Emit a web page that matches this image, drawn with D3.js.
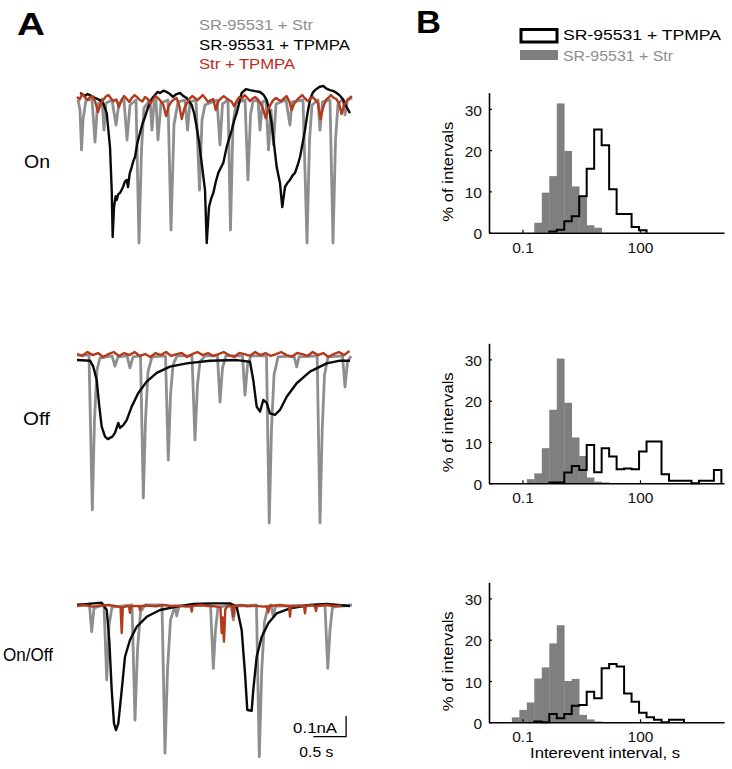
<!DOCTYPE html>
<html><head><meta charset="utf-8">
<script src="https://cdn.jsdelivr.net/npm/d3@7"></script>
<style>
body{margin:0;background:#fff}
svg{display:block}
text{font-family:Arial,"Liberation Sans",sans-serif}
</style>
</head><body>
<svg id="c" width="732" height="769"></svg>
<script>
// ---------- Panel A: current traces, [time (s), current (pA)] ----------
const legendA = ["SR-95531 + Str", "SR-95531 + TPMPA", "Str + TPMPA"];
const rowLabels = ["On", "Off", "On/Off"];

const onGray = [[0.015,-5],[0.046,-53],[0.069,-246],[0.092,-101],[0.137,-5],[0.229,0],[0.275,-208],[0.313,-29],[0.382,0],[0.412,-150],[0.443,-19],[0.535,-5],[0.596,-126],[0.641,-19],[0.718,-5],[0.764,-198],[0.809,-29],[0.901,-5],[0.947,-696],[0.985,-246],[1.023,-43],[1.115,-5],[1.145,-150],[1.176,-24],[1.206,-5],[1.237,-198],[1.283,-19],[1.390,-5],[1.436,-633],[1.481,-126],[1.542,-14],[1.649,-5],[1.688,-150],[1.726,-14],[1.817,-5],[1.871,-440],[1.909,-101],[1.955,-29],[2.138,-5],[2.184,-222],[2.222,-24],[2.306,-5],[2.344,-633],[2.382,-126],[2.428,-19],[2.566,-5],[2.611,-391],[2.650,-77],[2.688,-10],[2.764,-5],[2.795,-150],[2.833,-14],[2.886,-5],[2.925,-246],[2.963,-53],[3.001,-222],[3.039,-24],[3.192,-5],[3.253,-126],[3.283,-14],[3.452,-5],[3.513,-696],[3.551,-198],[3.589,-29],[3.681,-5],[3.711,-150],[3.749,-14],[3.864,-5],[3.910,-696],[3.948,-198],[3.986,-24],[4.062,0],[4.093,-77],[4.131,-5],[4.200,5]];
const onBlack = [[0.046,29],[0.090,22],[0.122,14],[0.160,24],[0.199,19],[0.240,10],[0.275,5],[0.351,-5],[0.400,-20],[0.454,-68],[0.504,-232],[0.530,-440],[0.545,-667],[0.565,-522],[0.590,-470],[0.606,-488],[0.630,-460],[0.657,-454],[0.680,-440],[0.703,-425],[0.730,-400],[0.759,-391],[0.779,-425],[0.805,-360],[0.835,-329],[0.860,-300],[0.886,-280],[0.920,-215],[0.962,-164],[1.000,-120],[1.039,-87],[1.080,-45],[1.115,-19],[1.150,5],[1.191,19],[1.230,34],[1.268,29],[1.320,40],[1.370,34],[1.420,24],[1.466,10],[1.520,24],[1.573,29],[1.620,15],[1.675,5],[1.752,-29],[1.790,-70],[1.828,-135],[1.870,-220],[1.904,-309],[1.955,-440],[1.981,-696],[2.016,-522],[2.050,-480],[2.082,-454],[2.120,-400],[2.158,-357],[2.200,-330],[2.234,-309],[2.260,-270],[2.286,-232],[2.325,-190],[2.363,-150],[2.400,-105],[2.439,-68],[2.480,-15],[2.515,29],[2.580,48],[2.642,43],[2.720,38],[2.795,34],[2.850,20],[2.897,-5],[2.940,-60],[2.973,-116],[3.010,-220],[3.050,-329],[3.100,-406],[3.135,-522],[3.177,-425],[3.215,-405],[3.253,-391],[3.290,-370],[3.329,-357],[3.370,-320],[3.406,-280],[3.445,-215],[3.482,-150],[3.520,-70],[3.558,-5],[3.600,30],[3.635,43],[3.700,58],[3.761,63],[3.810,50],[3.864,43],[3.920,38],[3.966,29],[4.020,15],[4.067,-5],[4.120,-40],[4.169,-68]];
const onRed = [[0.00,10],[0.04,-2],[0.08,24],[0.12,8],[0.16,-5],[0.20,10],[0.24,14],[0.28,-15],[0.32,-63],[0.36,-25],[0.40,-5],[0.44,12],[0.48,19],[0.52,2],[0.56,-10],[0.60,-2],[0.64,-39],[0.68,-5],[0.72,14],[0.76,0],[0.80,-14],[0.84,6],[0.88,19],[0.92,8],[0.96,-5],[1.00,-12],[1.04,10],[1.08,0],[1.12,-24],[1.16,-4],[1.20,14],[1.24,3],[1.28,-10],[1.32,-30],[1.36,-82],[1.40,-35],[1.44,-14],[1.48,-2],[1.52,5],[1.56,-30],[1.60,-97],[1.64,-45],[1.68,-19],[1.72,2],[1.76,14],[1.80,5],[1.84,-5],[1.88,6],[1.92,19],[1.96,4],[2.00,-14],[2.04,-6],[2.08,0],[2.12,-53],[2.16,-10],[2.20,3],[2.24,14],[2.28,4],[2.32,-5],[2.36,-12],[2.40,-34],[2.44,-8],[2.48,10],[2.52,2],[2.56,19],[2.60,6],[2.64,-10],[2.68,2],[2.72,10],[2.76,-2],[2.80,-19],[2.84,-45],[2.88,-92],[2.92,-50],[2.96,-24],[3.00,-5],[3.04,5],[3.08,-4],[3.12,-10],[3.16,3],[3.20,14],[3.24,-10],[3.28,-53],[3.32,-20],[3.36,-5],[3.40,8],[3.44,19],[3.48,4],[3.52,-10],[3.56,0],[3.60,10],[3.64,-4],[3.68,-19],[3.72,-97],[3.76,-40],[3.80,-5],[3.84,6],[3.88,19],[3.92,5],[3.96,0],[4.00,-20],[4.04,-72],[4.08,-30],[4.12,-10],[4.16,4],[4.20,14]];

const offGray = [[0.000,14],[0.183,14],[0.234,-734],[0.267,-300],[0.305,-58],[0.351,0],[0.535,10],[0.580,-39],[0.626,5],[0.764,10],[0.809,-48],[0.855,5],[0.970,10],[1.013,-676],[1.046,-300],[1.084,-68],[1.145,5],[1.352,10],[1.394,-493],[1.428,-179],[1.466,-34],[1.527,10],[1.756,10],[1.802,-396],[1.840,-130],[1.878,-19],[1.955,10],[2.146,10],[2.184,-213],[2.222,-48],[2.275,10],[2.527,10],[2.566,-179],[2.604,-34],[2.657,10],[2.894,10],[2.936,-797],[2.970,-348],[3.009,-82],[3.070,5],[3.314,10],[3.355,-43],[3.390,5],[3.668,10],[3.711,-797],[3.745,-348],[3.780,-82],[3.833,5],[4.055,10],[4.093,-140],[4.131,-19],[4.184,10]];
const offBlack = [[0.000,-10],[0.199,-13],[0.249,-42],[0.301,-106],[0.341,-235],[0.377,-332],[0.428,-380],[0.470,-392],[0.504,-386],[0.540,-380],[0.580,-362],[0.631,-314],[0.657,-338],[0.707,-324],[0.759,-300],[0.835,-235],[0.936,-169],[1.064,-114],[1.217,-72],[1.420,-42],[1.675,-26],[2.031,-13],[2.439,-10],[2.642,-18],[2.692,-106],[2.744,-235],[2.795,-259],[2.845,-203],[2.897,-217],[2.947,-267],[3.024,-275],[3.100,-251],[3.203,-187],[3.355,-122],[3.558,-66],[3.813,-26],[4.017,-13],[4.169,-13]];
const offRed = [[0.00,19],[0.08,10],[0.16,29],[0.24,14],[0.32,24],[0.40,5],[0.48,19],[0.56,29],[0.64,10],[0.72,24],[0.80,14],[0.88,29],[0.96,10],[1.04,19],[1.12,5],[1.20,24],[1.28,14],[1.36,29],[1.44,10],[1.52,19],[1.60,24],[1.68,5],[1.76,19],[1.84,29],[1.92,14],[2.00,24],[2.08,10],[2.16,19],[2.24,29],[2.32,14],[2.40,5],[2.48,24],[2.56,19],[2.64,10],[2.72,29],[2.80,14],[2.88,24],[2.96,10],[3.04,19],[3.12,29],[3.20,14],[3.28,5],[3.36,24],[3.44,19],[3.52,10],[3.60,29],[3.68,14],[3.76,24],[3.84,5],[3.92,19],[4.00,29],[4.08,14],[4.16,34]];

const onOffGray = [[0.000,0],[0.191,0],[0.224,-129],[0.260,-14],[0.412,0],[0.454,-362],[0.489,-97],[0.535,-10],[0.840,0],[0.886,-556],[0.924,-217],[0.970,-34],[1.039,0],[1.298,0],[1.344,-716],[1.382,-314],[1.428,-72],[1.497,-5],[1.523,-53],[1.558,-5],[2.039,0],[2.082,-306],[2.115,-121],[2.153,-10],[2.352,0],[2.387,-72],[2.421,-5],[2.741,0],[2.784,-733],[2.822,-314],[2.863,-82],[2.917,-10],[2.963,0],[2.998,-57],[3.032,-5],[3.787,0],[3.830,-306],[3.864,-121],[3.902,-10],[4.200,0]];
const onOffBlack = [[0.000,0],[0.249,8],[0.377,11],[0.454,-24],[0.493,-169],[0.530,-411],[0.565,-572],[0.596,-604],[0.631,-572],[0.683,-411],[0.733,-250],[0.809,-169],[0.912,-105],[1.064,-57],[1.268,-24],[1.523,-8],[1.776,5],[2.031,8],[2.337,8],[2.439,-8],[2.515,-121],[2.566,-330],[2.601,-507],[2.668,-511],[2.692,-411],[2.744,-250],[2.821,-153],[2.922,-88],[3.050,-40],[3.253,-16],[3.558,0],[3.813,5],[4.169,-5]];
const onOffRed = [[0.00,-5],[0.12,0],[0.24,-8],[0.36,-3],[0.48,0],[0.60,-6],[0.665,-10],[0.683,-135],[0.70,-12],[0.76,-5],[0.795,-8],[0.809,-38],[0.823,-6],[0.90,-4],[0.948,-5],[0.962,-24],[0.976,-5],[1.08,-3],[1.20,-6],[1.32,0],[1.44,-5],[1.56,-3],[1.68,-8],[1.738,-5],[1.752,-32],[1.766,-4],[1.90,0],[2.00,-5],[2.10,-6],[2.19,-10],[2.21,-135],[2.225,-60],[2.245,-177],[2.265,-20],[2.30,-6],[2.37,-5],[2.387,-56],[2.40,-5],[2.50,0],[2.60,-6],[2.73,-4],[2.85,-8],[2.90,-6],[2.922,-35],[2.94,-5],[3.10,0],[3.238,-6],[3.253,-56],[3.268,-6],[3.40,-5],[3.468,-5],[3.482,-40],[3.496,-4],[3.60,0],[3.636,-8],[3.65,-29],[3.664,-5],[3.80,0],[3.92,-5],[4.04,-3]];

// scale bar: 0.5 s, 0.1 nA (100 pA)
const scaleBarTime = 0.5, scaleBarCurrent = 100;
const scaleBarLabels = ["0.1nA", "0.5 s"];

// ---------- Panel B: interevent interval histograms ----------
const legendB = ["SR-95531 + TPMPA", "SR-95531 + Str"];
const binEdgesLog10 = [-1.271,-1.080,-0.889,-0.698,-0.507,-0.316,-0.125,0.066,0.257,0.448,0.639,0.830,1.021,1.212,1.403,1.594,1.785,1.976,2.167,2.358,2.549,2.740,2.931,3.122,3.313,3.504,3.695,3.886,4.077];
const onStr   = [0,0,0,2.4,9.7,13.7,31.3,19.8,11.2,8.6,1.8,1.2,0,0,0,0,0,0,0,0,0,0,0,0,0,0,0,0];
const onTpmpa = [0,0,0,0,0,0.3,0.7,2.8,4.0,8.8,15.5,25.0,21.2,10.5,4.5,4.5,1.4,0.6,0,0,0,0,0,0,0,0,0,0];
const offStr   = [0,0,1.0,2.4,8.5,17.8,30.2,19.5,11.1,6.6,1.4,0.4,0.2,0,0,0,0,0,0,0,0,0,0,0,0,0,0,0];
const offTpmpa = [0,0,0,0,0,0.2,0.2,2.6,4.2,3.2,9.3,2.7,8.5,6.5,3.4,3.6,3.4,7.7,10.1,10.1,2.2,0.6,0.6,0.6,0,0.6,0.6,3.2];
const onOffStr   = [1.2,3.0,4.8,10.6,13.3,19.1,23.5,10.0,10.5,1.8,0.7,0.2,0,0,0,0,0,0,0,0,0,0,0,0,0,0,0,0];
const onOffTpmpa = [0,0,0,0.2,0,2.0,1.0,2.0,4.0,4.2,7.4,5.8,13.1,14.1,13.5,7.0,5.0,2.3,1.2,0.6,0,0.6,0.6,0,0,0,0,0];
const yTicks = [0,10,20,30];
const xTicks = [0.1, 100];
const xTickLabels = ["0.1", "100"];
const yLabel = "% of intervals";
const xLabel = "Interevent interval, s";

// ---------- drawing ----------
const GRAY = "#8e8e8e", RED = "#b5391b", BLACK = "#0a0a0a", BAR = "#7f7f7f";
const svg = d3.select("#c");

// panel letters
svg.append("text").attr("x",17).attr("y",35).attr("font-size",31).attr("font-weight","bold")
  .attr("textLength",28).attr("lengthAdjust","spacingAndGlyphs").text("A");
svg.append("text").attr("x",416).attr("y",33).attr("font-size",31).attr("font-weight","bold")
  .attr("textLength",25).attr("lengthAdjust","spacingAndGlyphs").text("B");

// legend A
const legA = [{t:legendA[0],c:GRAY,y:30,w:114},{t:legendA[1],c:"#000",y:50,w:151},{t:legendA[2],c:"#c0281c",y:69,w:96}];
legA.forEach(d => svg.append("text").attr("x",199).attr("y",d.y).attr("font-size",15).attr("fill",d.c)
  .attr("textLength",d.w).attr("lengthAdjust","spacingAndGlyphs").text(d.t));

// traces
const xT = d3.scaleLinear().domain([0,4.2]).range([77,352]);
const rows = [
  {label:rowLabels[0], base:99,  gray:onGray,    black:onBlack,    red:onRed,    lx:24, ly:168, lw:26, fs:18},
  {label:rowLabels[1], base:358, gray:offGray,   black:offBlack,   red:offRed,   lx:23, ly:425, lw:27, fs:18},
  {label:rowLabels[2], base:605, gray:onOffGray, black:onOffBlack, red:onOffRed, lx:3,  ly:661, lw:50, fs:19}
];
rows.forEach((r,i) => {
  const y = d3.scaleLinear().domain([-1000,0]).range([r.base+207, r.base]);
  const ln = d3.line().x(d=>xT(d[0])).y(d=>y(d[1]));
  const g = svg.append("g");
  g.append("path").datum(r.gray).attr("d",ln).attr("fill","none").attr("stroke",GRAY)
    .attr("stroke-width",2.8).attr("stroke-linejoin","round");
  g.append("path").datum(r.black).attr("d",ln).attr("fill","none").attr("stroke",BLACK)
    .attr("stroke-width",2.4).attr("stroke-linejoin","round");
  g.append("path").datum(r.red).attr("d",ln).attr("fill","none").attr("stroke",RED)
    .attr("stroke-width",2.4).attr("stroke-linejoin","round");
  svg.append("text").attr("x",r.lx).attr("y",r.ly).attr("font-size",r.fs)
    .attr("textLength",r.lw).attr("lengthAdjust","spacingAndGlyphs").text(r.label);
  if (i === 2) {
    const t0 = 3.61, i0 = -636;
    const sb = d3.line().x(d=>xT(d[0])).y(d=>y(d[1]));
    g.append("path").datum([[t0,i0],[t0+scaleBarTime,i0],[t0+scaleBarTime,i0+scaleBarCurrent]])
      .attr("d",sb).attr("fill","none").attr("stroke","#000").attr("stroke-width",1.3);
    svg.append("text").attr("x",xT(t0+scaleBarTime)-9).attr("y",y(i0)-4).attr("font-size",14)
      .attr("text-anchor","end").attr("textLength",44).attr("lengthAdjust","spacingAndGlyphs").text(scaleBarLabels[0]);
    svg.append("text").attr("x",xT(t0)-14).attr("y",y(i0)+20).attr("font-size",14)
      .attr("textLength",34).attr("lengthAdjust","spacingAndGlyphs").text(scaleBarLabels[1]);
  }
});

// legend B
svg.append("rect").attr("x",521).attr("y",29.5).attr("width",36).attr("height",12.5)
  .attr("fill","#fff").attr("stroke","#000").attr("stroke-width",3);
svg.append("text").attr("x",563).attr("y",40).attr("font-size",15).attr("textLength",158)
  .attr("lengthAdjust","spacingAndGlyphs").text(legendB[0]);
svg.append("rect").attr("x",520).attr("y",50).attr("width",38).attr("height",10).attr("fill",BAR);
svg.append("text").attr("x",563).attr("y",61).attr("font-size",15).attr("fill",GRAY).attr("textLength",110)
  .attr("lengthAdjust","spacingAndGlyphs").text(legendB[1]);

// histograms
const xH = d3.scaleLog().domain([0.01397, 13930]).range([489, 724]);
const edges = binEdgesLog10.map(e => Math.pow(10, e));
const hists = [
  {y0:232.7, str:onStr,    tp:onTpmpa,    xlab:false},
  {y0:483.3, str:offStr,   tp:offTpmpa,   xlab:false},
  {y0:722.3, str:onOffStr, tp:onOffTpmpa, xlab:true}
];
hists.forEach(h => {
  const yH = d3.scaleLinear().domain([0,33.9]).range([h.y0, h.y0-140]);
  const g = svg.append("g");
  g.selectAll("rect.bar").data(h.str.map((v,i)=>({v,i})).filter(d=>d.v>0)).join("rect")
    .attr("x", d=>xH(edges[d.i])).attr("width", d=>xH(edges[d.i+1])-xH(edges[d.i]) + 0.3)
    .attr("y", d=>yH(d.v)).attr("height", d=>h.y0-yH(d.v)).attr("fill",BAR);
  const nz = h.tp.map((v,i)=>v>0?i:-1).filter(i=>i>=0);
  const first = nz[0], last = nz[nz.length-1];
  const pts = [[edges[first],0]];
  for (let i=first;i<=last;i++){ pts.push([edges[i],h.tp[i]]); pts.push([edges[i+1],h.tp[i]]); }
  pts.push([edges[last+1],0]);
  g.append("path").datum(pts).attr("d", d3.line().x(d=>xH(d[0])).y(d=>yH(d[1])))
    .attr("fill","none").attr("stroke","#000").attr("stroke-width",2).attr("stroke-linejoin","miter");
  const ax = g.append("g").attr("transform",`translate(0,${h.y0})`)
    .call(d3.axisBottom(xH).tickValues(xTicks).tickFormat((d,i)=>xTickLabels[i]).tickSizeInner(-3).tickSizeOuter(0).tickPadding(9));
  const ay = g.append("g").attr("transform",`translate(489,0)`)
    .call(d3.axisLeft(yH).tickValues(yTicks).tickSizeInner(-3).tickSizeOuter(0).tickPadding(7));
  [ax,ay].forEach(a => {
    a.select(".domain").attr("stroke","#000").attr("stroke-width",1.6);
    a.selectAll(".tick line").attr("stroke","#000").attr("stroke-width",1.2);
    a.selectAll(".tick text").attr("font-size",15.5).attr("font-family","Arial, 'Liberation Sans', sans-serif").attr("fill","#111");
  });
  ay.selectAll(".tick text").attr("dy","0.4em");
  g.append("text").attr("transform",`translate(453,${h.y0-61}) rotate(-90)`).attr("text-anchor","middle")
    .attr("font-size",15).attr("textLength",100).attr("lengthAdjust","spacingAndGlyphs").text(yLabel);
  if (h.xlab) {
    g.append("text").attr("x",605).attr("y",h.y0+36).attr("text-anchor","middle").attr("font-size",15)
      .attr("textLength",150).attr("lengthAdjust","spacingAndGlyphs").text(xLabel);
  }
});
</script>
</body></html>
